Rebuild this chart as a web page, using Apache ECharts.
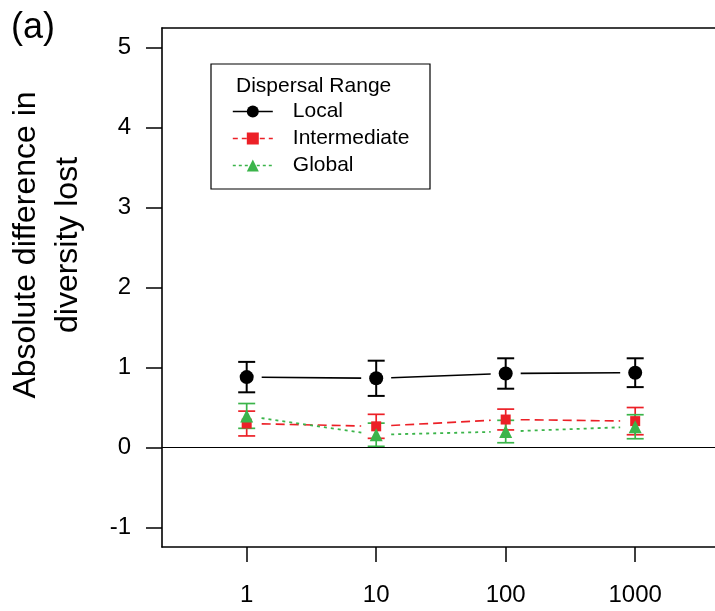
<!DOCTYPE html>
<html>
<head>
<meta charset="utf-8">
<script src="https://cdn.jsdelivr.net/npm/echarts@6/dist/echarts.min.js"></script>
<style>html,body{margin:0;padding:0;background:#fff}#c{width:715px;height:611px}</style>
</head>
<body>
<div id="c"></div>
<script>
// ---- data ----
var xValues = [1, 10, 100, 1000];
var xTickLabels = ['1', '10', '100', '1000'];
var yTicks = [-1, 0, 1, 2, 3, 4, 5];
var seriesNames = ['Local', 'Intermediate', 'Global'];
var localMean = [0.88, 0.865, 0.925, 0.935];
var localErr = [0.19, 0.22, 0.19, 0.18];
var interMean = [0.30, 0.265, 0.35, 0.33];
var interErr = [0.155, 0.15, 0.13, 0.17];
var globalMean = [0.395, 0.16, 0.20, 0.26];
var globalErr = [0.155, 0.145, 0.14, 0.15];

var FONT = '"Liberation Sans", Arial, Helvetica, sans-serif';
var colors = ['#000000', '#ec2027', '#3bb44a'];
var symbols = ['circle', 'rect', 'triangle'];
var symbolSizes = [14, 10, 13];
var dashes = ['solid', [9, 5], [3, 4]];
var lineWidths = [1.6, 1.6, 1.8];
var means = [localMean, interMean, globalMean];
var errs = [localErr, interErr, globalErr];

var xPos = xValues.map(function (v) { return Math.log10(v); });

var chart = echarts.init(document.getElementById('c'), null, { renderer: 'canvas' });

var series = [];
// error bars
means.forEach(function (m, s) {
  series.push({
    type: 'custom',
    name: seriesNames[s] + '-err',
    z: 2,
    silent: true,
    data: xPos.map(function (x, i) { return [x, m[i] - errs[s][i], m[i] + errs[s][i]]; }),
    renderItem: function (params, api) {
      var lo = api.coord([api.value(0), api.value(1)]);
      var hi = api.coord([api.value(0), api.value(2)]);
      var hw = 8.5;
      var st = { stroke: colors[s], lineWidth: s === 0 ? 2 : 1.7 };
      return {
        type: 'group',
        children: [
          { type: 'line', shape: { x1: lo[0], y1: lo[1], x2: hi[0], y2: hi[1] }, style: st },
          { type: 'line', shape: { x1: lo[0] - hw, y1: lo[1], x2: lo[0] + hw, y2: lo[1] }, style: st },
          { type: 'line', shape: { x1: hi[0] - hw, y1: hi[1], x2: hi[0] + hw, y2: hi[1] }, style: st }
        ]
      };
    }
  });
});
// connecting segments with gaps around markers
means.forEach(function (m, s) {
  var segs = [];
  for (var i = 0; i < xPos.length - 1; i++) segs.push([xPos[i], m[i], xPos[i + 1], m[i + 1]]);
  series.push({
    type: 'custom',
    name: seriesNames[s] + '-seg',
    z: 2,
    silent: true,
    data: segs,
    renderItem: function (params, api) {
      var p1 = api.coord([api.value(0), api.value(1)]);
      var p2 = api.coord([api.value(2), api.value(3)]);
      var dx = p2[0] - p1[0], dy = p2[1] - p1[1];
      var len = Math.sqrt(dx * dx + dy * dy);
      var g = 15;
      var ux = dx / len, uy = dy / len;
      return {
        type: 'line',
        shape: { x1: p1[0] + ux * g, y1: p1[1] + uy * g, x2: p2[0] - ux * g, y2: p2[1] - uy * g },
        style: { stroke: colors[s], lineWidth: lineWidths[s], lineDash: dashes[s] === 'solid' ? null : dashes[s] }
      };
    }
  });
});
// markers (line series with hidden line so legend shows line+marker)
means.forEach(function (m, s) {
  var ser = {
    type: 'line',
    name: seriesNames[s],
    z: 3,
    data: xPos.map(function (x, i) { return [x, m[i]]; }),
    symbol: symbols[s],
    symbolSize: symbolSizes[s],
    showSymbol: true,
    showAllSymbol: true,
    itemStyle: { color: colors[s], opacity: 1 },
    lineStyle: { color: colors[s], width: lineWidths[s], type: dashes[s], opacity: 0 },
    emphasis: { disabled: true },
    silent: true,
    animation: false
  };
  if (s === 0) {
    ser.markLine = {
      silent: true,
      symbol: 'none',
      label: { show: false },
      lineStyle: { color: '#000', width: 1.2, type: 'solid' },
      data: [{ yAxis: 0 }],
      animation: false
    };
  }
  series.push(ser);
});

var X_MIN = -0.654, UNIT = 129.5, GRID_LEFT = 162, GRID_W = 715 - GRID_LEFT;
var X_MAX = X_MIN + GRID_W / UNIT;
var axisLineStyle = { color: '#000', width: 1.6 };
var option = {
  animation: false,
  grid: { left: GRID_LEFT, top: 28, right: 0, bottom: 64 },
  xAxis: [{
    type: 'value',
    position: 'bottom',
    min: X_MIN,
    max: X_MAX,
    axisLine: { show: true, onZero: false, lineStyle: axisLineStyle },
    splitLine: { show: false },
    axisTick: { show: true, length: 15, customValues: xPos, lineStyle: { color: '#000', width: 1.5 } },
    axisLabel: {
      show: true, customValues: xPos, margin: 36,
      fontSize: 24, color: '#000', fontFamily: FONT,
      formatter: function (v) { var idx = xPos.indexOf(v); return idx >= 0 ? xTickLabels[idx] : ''; }
    }
  }, {
    type: 'value',
    position: 'top',
    min: X_MIN,
    max: X_MAX,
    axisLine: { show: true, onZero: false, lineStyle: axisLineStyle },
    splitLine: { show: false },
    axisTick: { show: false },
    axisLabel: { show: false }
  }],
  yAxis: {
    type: 'value',
    min: -(546.7 - 447.3) / 80,
    max: (447.3 - 28) / 80,
    axisLine: { show: true, onZero: false, lineStyle: axisLineStyle },
    splitLine: { show: false },
    axisTick: { show: true, length: 16, customValues: yTicks, lineStyle: { color: '#000', width: 1.5 } },
    axisLabel: {
      show: true, customValues: yTicks, margin: 31,
      fontSize: 24, color: '#000', fontFamily: FONT,
      formatter: function (v) { return String(Math.round(v)); }
    }
  },
  legend: {
    show: true,
    orient: 'vertical',
    left: 232,
    top: 101,
    padding: 0,
    itemGap: 6,
    itemWidth: 40,
    itemHeight: 15,
    selectedMode: false,
    textStyle: { fontSize: 21, fontFamily: FONT, color: '#000', padding: [0, 0, 0, 15] },
    lineStyle: { opacity: 1 },
    data: seriesNames.map(function (n, s) {
      return { name: n, lineStyle: { opacity: 1, width: s === 0 ? 1.6 : 1.5, color: colors[s], type: s === 0 ? 'solid' : (s === 1 ? [5, 4] : [3, 3]) } };
    })
  },
  graphic: [
    { type: 'rect', shape: { x: 211, y: 64, width: 219, height: 125 }, style: { fill: 'none', stroke: '#000', lineWidth: 1.2 }, z: 10 },
    { type: 'text', x: 236, y: 86, style: { text: 'Dispersal Range', font: '21px ' + FONT, fill: '#000', textAlign: 'left', textVerticalAlign: 'middle' }, z: 10 },
    { type: 'text', x: 11, y: 28, style: { text: '(a)', font: '36px ' + FONT, fill: '#000', textAlign: 'left', textVerticalAlign: 'middle' }, z: 10 },
    { type: 'text', x: 47, y: 245, rotation: Math.PI / 2, style: { text: 'Absolute difference in\ndiversity lost', font: '32px ' + FONT, lineHeight: 42, fill: '#000', textAlign: 'center', textVerticalAlign: 'middle' }, z: 10 }
  ],
  series: series
};
chart.setOption(option);
</script>
</body>
</html>
